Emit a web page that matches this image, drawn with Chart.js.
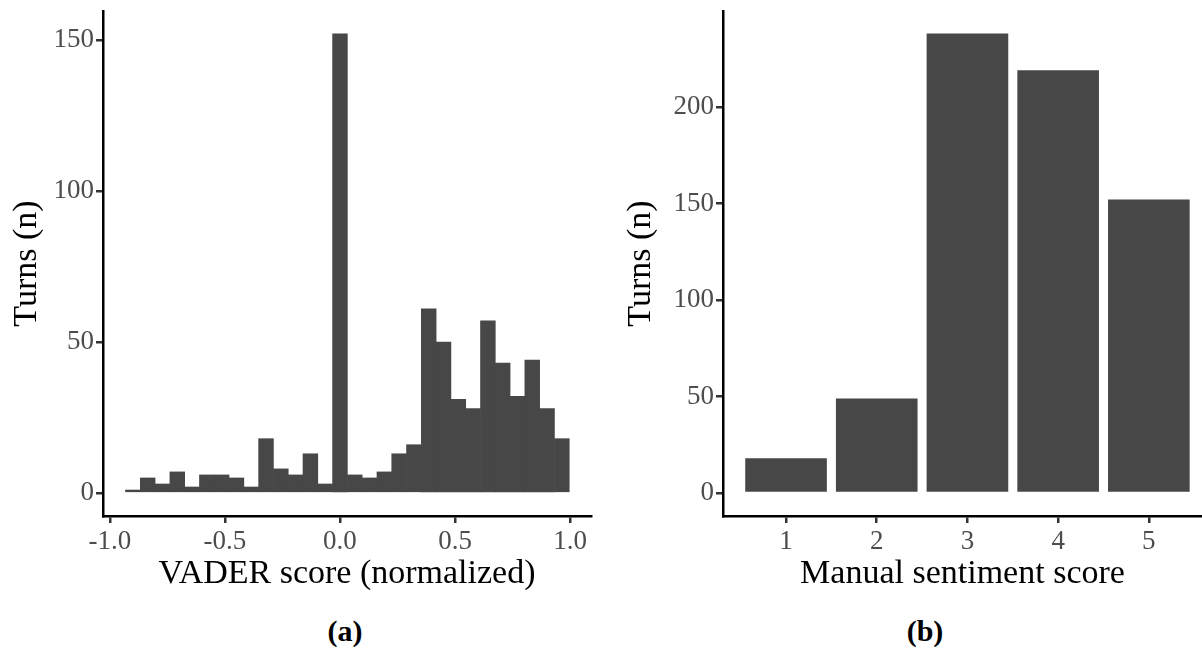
<!DOCTYPE html>
<html>
<head>
<meta charset="utf-8">
<script src="https://cdn.jsdelivr.net/npm/chart.js@4.4.1/dist/chart.umd.min.js"></script>
<style>
	body {
		margin: 0;
		background: #fff;
		width: 1202px;
		height: 653px;
		overflow: hidden;
		position: relative;
		font-family: "Liberation Serif", "Times New Roman", serif;
	}
	#vader {
		position: absolute;
		left: 0;
		top: 0;
	}
	#manual {
		position: absolute;
		left: 614px;
		top: 0;
	}
	.caption {
		position: absolute;
		font-weight: bold;
		font-size: 30px;
		line-height: 30px;
		transform: translateX(-50%);
		color: #000;
	}
</style>
</head>
<body>
<canvas id="vader" width="600" height="600"></canvas>
<canvas id="manual" width="588" height="600"></canvas>
<div class="caption" style="left:345px; top:616px;">(a)</div>
<div class="caption" style="left:925px; top:616px;">(b)</div>

<script>
// histogram bins (centers) for VADER score
const vaderBins = [
	-0.9, -0.8357, -0.7714, -0.7071, -0.6429, -0.5786, -0.5143, -0.45, -0.3857, -0.3214,
	-0.2571, -0.1929, -0.1286, -0.0643, 0, 0.0643, 0.1286, 0.1929, 0.2571, 0.3214,
	0.3857, 0.45, 0.5143, 0.5786, 0.6429, 0.7071, 0.7714, 0.8357, 0.9, 0.9643,
];
const vaderCounts = [
	1, 5, 3, 7, 2, 6, 6, 5, 2, 18,
	8, 6, 13, 3, 152, 6, 5, 7, 13, 16,
	61, 50, 31, 28, 57, 43, 32, 44, 28, 18,
];
const vaderTicks = [-1.0, -0.5, 0.0, 0.5, 1.0];

// manual sentiment score
const manualScores = [1, 2, 3, 4, 5];
const manualCounts = [18, 49, 238, 219, 152];

const barColor = "#474747";
const tickFont = { family: "Liberation Serif", size: 27 };
const titleFont = { family: "Liberation Serif", size: 34 };

// fix scale boxes so the plot areas line up with the reference
const fixBox = (size) => (scale) => {
	if (scale.isHorizontal()) scale.height = size;
	else scale.width = size;
	scale.paddingTop = 0;
	scale.paddingBottom = 0;
	scale.paddingLeft = 0;
	scale.paddingRight = 0;
};

const axisCommon = {
	offset: false,
	grid: {
		offset: false,
		drawOnChartArea: false,
		drawTicks: true,
		tickLength: 7,
		color: "#333333",
		lineWidth: 2.5,
	},
	border: {
		display: true,
		color: "#000000",
		width: 2.5,
	},
};

const makeOptions = (cfg) => ({
	responsive: false,
	animation: false,
	layout: {
		padding: { top: 11, right: cfg.padRight, left: 0, bottom: 0 },
	},
	plugins: {
		legend: { display: false },
		tooltip: { enabled: false },
	},
	scales: {
		x: {
			type: "linear",
			min: cfg.xMin,
			max: cfg.xMax,
			afterFit: fixBox(84),
			afterBuildTicks: (scale) => {
				scale.ticks = cfg.xTicks.map((v) => ({ value: v }));
			},
			ticks: {
				font: tickFont,
				color: "#4d4d4d",
				padding: 3,
				maxRotation: 0,
				autoSkip: false,
				callback: cfg.xFormat,
			},
			title: {
				display: true,
				text: cfg.xTitle,
				font: titleFont,
				color: "#000",
				padding: { top: 0, bottom: 6 },
			},
			...axisCommon,
		},
		y: {
			type: "linear",
			min: cfg.yMin,
			max: cfg.yMax,
			afterFit: fixBox(cfg.yWidth),
			afterBuildTicks: (scale) => {
				scale.ticks = cfg.yTicks.map((v) => ({ value: v }));
			},
			ticks: {
				font: tickFont,
				color: "#4d4d4d",
				padding: 2,
				autoSkip: false,
			},
			title: {
				display: true,
				text: "Turns (n)",
				font: titleFont,
				color: "#000",
				padding: { top: 7, bottom: 0 },
			},
			...axisCommon,
		},
	},
});

new Chart(document.getElementById("vader"), {
	type: "bar",
	data: {
		datasets: [
			{
				data: vaderBins.map((b, i) => ({ x: b, y: vaderCounts[i] })),
				backgroundColor: barColor,
				borderWidth: 0,
				barPercentage: 1,
				categoryPercentage: 1,
			},
		],
	},
	options: makeOptions({
		xMin: -1.03,
		xMax: 1.091,
		yMin: -7.6,
		yMax: 159.6,
		xTicks: vaderTicks,
		yTicks: [0, 50, 100, 150],
		xFormat: (v) => Number(v).toFixed(1),
		xTitle: "VADER score (normalized)",
		yWidth: 103,
		padRight: 9,
	}),
});

new Chart(document.getElementById("manual"), {
	type: "bar",
	data: {
		datasets: [
			{
				data: manualScores.map((s, i) => ({ x: s, y: manualCounts[i] })),
				backgroundColor: barColor,
				borderWidth: 0,
				barPercentage: 0.9,
				categoryPercentage: 1,
			},
		],
	},
	options: makeOptions({
		xMin: 0.305,
		xMax: 5.586,
		yMin: -11.9,
		yMax: 249.7,
		xTicks: manualScores,
		yTicks: [0, 50, 100, 150, 200],
		xFormat: (v) => String(v),
		xTitle: "Manual sentiment score",
		yWidth: 109,
		padRight: 0,
	}),
});
</script>
</body>
</html>
